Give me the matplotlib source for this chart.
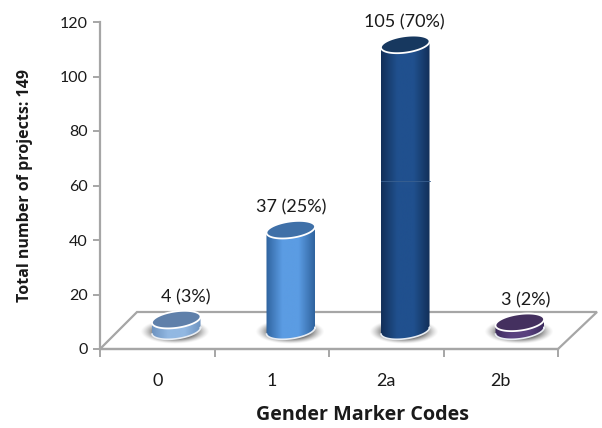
import numpy as np
import matplotlib
matplotlib.use('Agg')
import matplotlib.pyplot as plt
from matplotlib.colors import LinearSegmentedColormap
from matplotlib.patches import Polygon

# Werte aus dem Bild
codes = ['0', '1', '2a', '2b']
projects = [4, 37, 105, 3]
labels = ['4 (3%)', '37 (25%)', '105 (70%)', '3 (2%)']
yticks = [0, 20, 40, 60, 80, 100, 120]

side_mid = ['#92b8e2', '#5b9ce3', '#20508e', '#59417f']
side_edge = ['#6d93c0', '#2f639e', '#122f58', '#3c2b5e']
top_col = ['#5f80aa', '#3f70a8', '#17385f', '#44305f']
label_shift = [7, 0, -1, 4]

plt.rcParams['font.family'] = ['Lato', 'DejaVu Sans']

W, H = 602, 428
fig = plt.figure(figsize=(W / 100, H / 100), dpi=100, facecolor='white')
ax = fig.add_axes([100 / W, 1 - 349 / H, 458 / W, 327 / H])
ax.set_xlim(-0.5, 3.5)
ax.set_ylim(0, 120)

# Pixel pro Dateneinheit, fuer die 3D-Optik
px_x = 458 / 4
px_y = 327 / 120
depth_x = 19 / px_x
depth_y = 18.5 / px_y
gray = '#a6a6a6'


def ellipse(cx, cy, a, b, tilt=8):
    t = np.linspace(0, 2 * np.pi, 120)
    th = np.radians(tilt)
    dx = a * np.cos(t) * np.cos(th) - b * np.sin(t) * np.sin(th)
    dy = a * np.cos(t) * np.sin(th) + b * np.sin(t) * np.cos(th)
    return np.column_stack([cx + dx / px_x, cy + dy / px_y])


# Boden
floor = Polygon([(-0.5, 0), (-0.5 + 37 / px_x, 37 / px_y),
                 (3.5 + 39 / px_x, 37 / px_y), (3.5, 0)], closed=True,
                facecolor='white', edgecolor=gray, lw=1.6, clip_on=False, zorder=1)
ax.add_patch(floor)

a, b = 24.5, 8.2
for i, val in enumerate(projects):
    cx = i + depth_x
    base = depth_y
    top = base + val

    # Schatten
    n = 120
    yy, xx = np.mgrid[-1:1:n * 1j, -1:1:n * 1j]
    r = np.sqrt(xx ** 2 + yy ** 2)
    rgba = np.zeros((n, n, 4))
    rgba[..., :3] = 0.35
    rgba[..., 3] = np.clip((1 - r) * 2.2, 0, 1) ** 1.4
    ax.imshow(rgba, extent=[cx - 36 / px_x, cx + 34 / px_x, base - 14 / px_y, base + 11 / px_y],
              aspect='auto', origin='lower', zorder=2, clip_on=False)

    # Mantel mit Farbverlauf
    lower = ellipse(cx, base, a, b)
    upper = ellipse(cx, top, a, b)
    left = cx - a / px_x
    right = cx + a / px_x
    front = lower[lower[:, 1] <= base + (lower[:, 0] - cx) * px_x * np.tan(np.radians(8)) / px_y + 1e-9]
    front = front[np.argsort(front[:, 0])]
    back = upper[upper[:, 1] >= top + (upper[:, 0] - cx) * px_x * np.tan(np.radians(8)) / px_y - 1e-9]
    back = back[np.argsort(-back[:, 0])]
    body = np.vstack([front, back])
    clip = Polygon(body, closed=True, transform=ax.transData, facecolor='none', edgecolor='none')
    ax.add_patch(clip)
    cmap = LinearSegmentedColormap.from_list('cyl', [side_edge[i], side_mid[i], side_mid[i], side_edge[i]])
    grad = np.linspace(0, 1, 256).reshape(1, -1)
    im = ax.imshow(grad, cmap=cmap, aspect='auto', zorder=3,
                   extent=[left, right, base - 14 / px_y, top + 14 / px_y])
    im.set_clip_path(clip)
    im.set_clip_on(True)

    # helle Kante unten und Deckel
    ax.plot(front[:, 0], front[:, 1], color='#e8edf3', lw=1.2, zorder=4, clip_on=False)
    ax.add_patch(Polygon(upper, closed=True, facecolor=top_col[i], edgecolor='white',
                         lw=1.3, zorder=5, clip_on=False))

    ax.annotate(labels[i], (cx, top), xytext=(label_shift[i], 10), textcoords='offset points',
                ha='center', va='bottom', fontsize=13, color='#1a1a1a',
                annotation_clip=False, zorder=6)

# Naht im hohen Balken
ax.plot([2 + depth_x - a / px_x, 2 + depth_x + a / px_x], [61.5, 61.5], color='#3a6090', lw=0.6, zorder=4)

ax.patch.set_alpha(0)
ax.set_xlim(-0.5, 3.5)
ax.set_ylim(0, 120)
ax.set_xticks([-0.5, 0.5, 1.5, 2.5, 3.5])
ax.set_xticklabels([])
ax.set_xticks(range(4), codes, minor=True)
ax.tick_params(axis='x', which='minor', length=0, pad=17, labelsize=13, labelcolor='#1a1a1a')
ax.tick_params(axis='x', which='major', length=6, width=1.4, color=gray)
ax.set_yticks(yticks)
ax.tick_params(axis='y', length=5, width=1.4, color=gray, labelsize=11.5, labelcolor='#1a1a1a', pad=4)

for s in ['top', 'right']:
    ax.spines[s].set_visible(False)
for s in ['left', 'bottom']:
    ax.spines[s].set_color(gray)
    ax.spines[s].set_linewidth(1.6)
    ax.spines[s].set_zorder(1.5)

ax.set_xlabel('Gender Marker Codes', fontsize=14.2, fontweight='bold', family='Open Sans',
              color='#1a1a1a', labelpad=12, x=(363 - 100) / 458)
ax.set_ylabel('Total number of projects: 149', fontsize=11.5, fontweight='bold', family='Open Sans',
              color='#1a1a1a', labelpad=19)

fig.savefig('out.png', dpi=100, facecolor='white')
